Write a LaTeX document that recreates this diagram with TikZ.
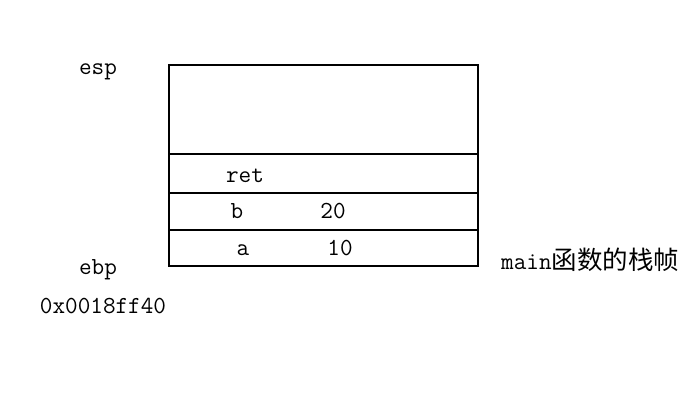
\documentclass[tikz,border=0pt]{standalone}
\usepackage{fontspec}
\newfontfamily\cjk{Noto Sans CJK SC}
\usetikzlibrary{calc}
\tikzset{
    lbl/.style={font=\ttfamily\fontsize{24.5}{24.5}\selectfont,inner sep=0pt,anchor=base},
    frame/.style={line width=2.8pt,line cap=rect}
}

\begin{document}
\begin{tikzpicture}[x=1pt,y=-1pt]
    \useasboundingbox (0,0) rectangle (696,400);
    \coordinate (TL) at (169,65);
    \coordinate (BR) at (478,266);
    \coordinate (RetL) at (169,154);
    \coordinate (RetR) at (478,154);
    \coordinate (BL) at (169,193);
    \coordinate (BRt) at (478,193);
    \coordinate (AL) at (169,230);
    \coordinate (AR) at (478,230);

    \draw[frame] (TL) rectangle (BR);
    \draw[frame] (RetL)--(RetR);
    \draw[frame] (BL)--(BRt);
    \draw[frame] (AL)--(AR);

    \node[lbl] (esp) at (98,74) {esp};
    \node[lbl] (ebp) at (98,274) {ebp};
    \node[lbl] (addr) at (103,313) {0x0018ff40};
    \node[lbl] (ret) at (245,182) {ret};
    \node[lbl] (b) at (237,218) {b};
    \node[lbl] (bval) at (333,218) {20};
    \node[lbl] (a) at (243,255) {a};
    \node[lbl] (aval) at (340,255) {10};
    \node[lbl,anchor=base west] (frm) at (501,269) {main{\cjk\fontsize{25.5}{25.5}\selectfont 函数的栈帧}};
\end{tikzpicture}
\end{document}
